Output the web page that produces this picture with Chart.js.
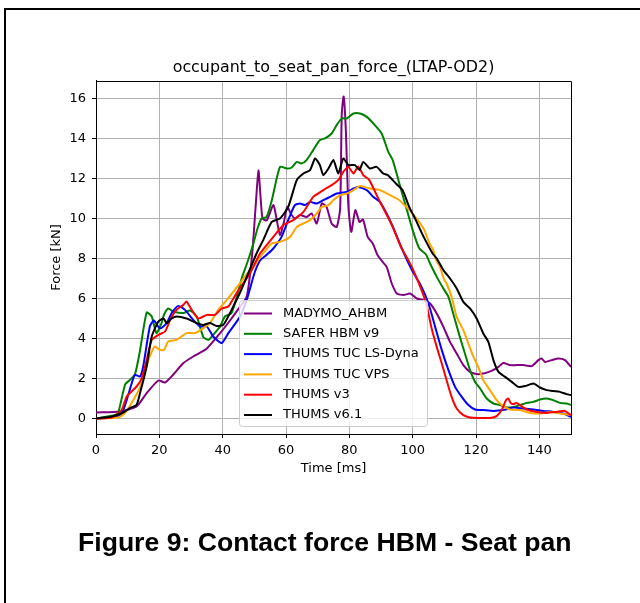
<!DOCTYPE html>
<html>
<head>
<meta charset="utf-8">
<title>occupant_to_seat_pan_force_(LTAP-OD2)</title>
<script src="https://cdn.jsdelivr.net/npm/chart.js@4.4.1/dist/chart.umd.min.js"></script>
<style>
  html, body { margin: 0; padding: 0; background: #fff; overflow: hidden; }
  #page { position: relative; width: 640px; height: 603px; overflow: hidden; }
  .rule { position: absolute; background: #000; }
  #ruleTop { left: 4px; top: 8px; width: 636px; height: 2px; }
  #ruleLeft { left: 4px; top: 8px; width: 2px; height: 595px; }
  #chart { position: absolute; left: 0; top: 0; }
  #caption { position: absolute; left: 78px; top: 527px; line-height: 30px; white-space: nowrap;
             font: bold 26.6px "Liberation Sans", Arial, sans-serif; color: #000; }
</style>
</head>
<body>
<div id="page">
  <div class="rule" id="ruleTop"></div>
  <div class="rule" id="ruleLeft"></div>
  <canvas id="chart" width="640" height="603"></canvas>
  <div id="caption">Figure 9: Contact force HBM - Seat pan</div>
</div>
<script>
// time [ms] / force [kN] per model
const madymoTime  = [0, 7.6, 12.8, 16, 19.7, 21.8, 24.4, 27.6, 30.7, 35, 39.2, 41.6, 44.7, 47.6, 49.3, 50.5, 51.3, 52.0, 52.6, 53.9, 56.0, 57.0, 58.1, 59.3, 60.4, 61.5, 62.8, 64.4, 66.5, 68.1, 69.7, 71.3, 72.8, 74.4, 76.0, 77.1, 77.6, 78.2, 78.9, 79.7, 80.6, 81.9, 83.2, 84.3, 85.8, 87.4, 88.9, 90.5, 91.8, 93.4, 95.0, 97.1, 99.2, 101.3, 103.4, 105.5, 107.6, 109.7, 111.8, 113.9, 116.0, 118.1, 120.2, 122.3, 124.9, 127.1, 128.6, 130.7, 132.8, 134.9, 137.6, 139.7, 140.7, 141.8, 143.9, 146.0, 148.1, 150];
const madymoForce = [0.3, 0.35, 0.6, 1.27, 1.9, 1.8, 2.2, 2.77, 3.1, 3.5, 4.27, 4.75, 5.42, 6.1, 8.2, 10.8, 12.4, 11.0, 10.0, 9.9, 10.67, 10.0, 9.17, 9.8, 10.58, 10.25, 10.0, 10.17, 10.08, 10.25, 9.75, 10.75, 10.58, 9.75, 9.58, 10.5, 15.2, 16.1, 14.4, 10.6, 9.33, 10.42, 9.83, 9.95, 9.08, 8.75, 8.17, 7.83, 7.58, 6.75, 6.25, 6.17, 6.25, 6.0, 5.92, 5.75, 5.25, 4.58, 3.83, 3.25, 2.67, 2.33, 2.22, 2.25, 2.38, 2.58, 2.78, 2.67, 2.67, 2.67, 2.62, 2.92, 3.0, 2.83, 2.92, 3.0, 2.92, 2.58];

const saferTime  = [0, 6, 7, 9.2, 10.7, 12.3, 13.9, 16, 17.6, 19.1, 20.7, 21.5, 22.8, 24.4, 27.6, 29.7, 31.8, 33.9, 35.5, 37, 39.2, 40.7, 42.8, 45.5, 46.0, 48.0, 49.7, 51.0, 52.3, 53.9, 55.5, 58.1, 60.2, 61.8, 63.4, 64.9, 66.5, 68.6, 70.7, 72.3, 74.4, 76.0, 77.6, 79.2, 81.3, 83.4, 85.5, 87.6, 90.2, 92.3, 93.7, 95.8, 97.9, 100.0, 102.1, 104.2, 105.5, 107.6, 109.7, 111.3, 112.8, 114.9, 116.5, 118.1, 119.7, 121.3, 123.4, 125.5, 127.6, 129.7, 131.8, 133.9, 136, 138.1, 140.2, 142.3, 144.4, 146.5, 148.6, 150];
const saferForce = [0, 0.18, 0.27, 1.7, 1.93, 2.2, 3.4, 5.3, 5.1, 4.27, 4.77, 5.2, 5.5, 5.35, 5.27, 5.4, 5.1, 4.07, 3.93, 4.18, 4.6, 5.1, 5.27, 6.7, 7.0, 7.9, 8.75, 9.5, 10.0, 10.08, 10.9, 12.58, 12.5, 12.55, 12.83, 12.75, 12.92, 13.42, 13.92, 14.0, 14.25, 14.67, 15.0, 15.0, 15.25, 15.25, 15.08, 14.75, 14.25, 13.33, 12.92, 11.75, 10.58, 9.42, 8.5, 8.2, 7.75, 7.08, 6.5, 6.08, 5.25, 4.08, 3.25, 2.42, 1.83, 1.5, 1.0, 0.75, 0.67, 0.55, 0.58, 0.67, 0.78, 0.83, 0.95, 1.0, 0.92, 0.78, 0.75, 0.67];

const lsDynaTime  = [0, 5, 8, 9.7, 11.3, 12.3, 13.9, 14.9, 17, 18.3, 20.2, 22.3, 23.9, 26, 28.1, 30.7, 32.8, 35, 37, 39.7, 41.8, 45.5, 47.9, 50.0, 51.8, 54, 56, 58.6, 60.7, 62.8, 64.4, 66, 67.6, 69.7, 71.8, 73.9, 76, 79.2, 81.3, 82.7, 85.5, 87.6, 89.5, 91.6, 93.7, 96.3, 98.9, 100.2, 102.8, 105, 107.1, 109.2, 111.3, 113.4, 115.5, 117.6, 119.7, 122.3, 125.5, 128.6, 131.8, 134.9, 138.1, 141.3, 144.4, 147.6, 150];
const lsDynaForce = [0, 0.05, 0.2, 0.93, 1.77, 2.18, 2.1, 2.6, 4.6, 4.9, 4.5, 4.77, 5.27, 5.63, 5.43, 4.93, 4.6, 4.6, 4.1, 3.77, 4.27, 5.1, 6.08, 7.25, 7.9, 8.2, 8.5, 9.08, 9.92, 10.67, 10.75, 10.67, 10.83, 10.75, 10.92, 11.08, 11.25, 11.33, 11.5, 11.58, 11.42, 11.08, 10.85, 10.3, 9.6, 8.6, 7.7, 7.3, 6.58, 5.75, 4.58, 3.42, 2.42, 1.58, 1.08, 0.67, 0.45, 0.42, 0.38, 0.42, 0.55, 0.5, 0.45, 0.38, 0.33, 0.25, 0.08];

const vpsTime  = [0, 7, 9, 11.8, 14, 15.5, 17, 18.5, 20.2, 21.5, 22.8, 25.4, 28.6, 31.3, 33.9, 36, 38.6, 41.3, 45.5, 47.5, 49.7, 52, 55.5, 58.1, 61.3, 63.4, 65.5, 67.6, 69.7, 71.3, 73.4, 75, 77.1, 79.2, 81.3, 83.4, 86.5, 89.7, 92.8, 95.5, 97.4, 99.5, 101.6, 103.7, 105.3, 106.5, 107.4, 108.6, 110.0, 110.7, 112.3, 113.9, 116, 117.6, 119.2, 120.7, 122.3, 124.4, 126.5, 128.6, 130.7, 133.9, 137.1, 140.2, 143.4, 146.5, 150];
const vpsForce = [0, 0.05, 0.25, 0.93, 1.6, 2.4, 3.1, 3.6, 3.43, 3.43, 3.85, 3.93, 4.27, 4.27, 4.52, 4.77, 5.43, 5.93, 6.77, 7.2, 7.58, 8.1, 8.75, 8.83, 9.08, 9.58, 9.75, 9.92, 10.25, 10.58, 10.67, 10.92, 11.17, 11.25, 11.42, 11.62, 11.5, 11.42, 11.17, 10.95, 10.67, 10.33, 9.92, 9.42, 8.75, 8.42, 7.92, 7.58, 6.92, 6.75, 6.08, 5.08, 4.42, 3.75, 3.08, 2.58, 1.92, 1.42, 0.92, 0.62, 0.45, 0.42, 0.28, 0.25, 0.33, 0.25, 0.17];

const v3Time  = [0, 5, 8, 9.7, 12.8, 14.4, 16, 17.6, 19.7, 21.8, 23.4, 25.4, 27.6, 28.6, 30.2, 32.3, 35, 37.6, 39.7, 41.8, 44.4, 48.6, 51.8, 56, 59.2, 62.3, 65.5, 68.6, 71.8, 74.4, 76.5, 78.1, 79.7, 81.3, 82.8, 84.4, 86.3, 88.9, 91.6, 93.7, 96.3, 98.9, 100.2, 102.8, 104.4, 106, 107.6, 109.2, 110.7, 112.3, 113.9, 116, 118.1, 121.3, 124.4, 126.5, 128.1, 129.5, 130.2, 130.9, 131.8, 132.8, 133.9, 136, 139.2, 142.3, 145.4, 148, 150];
const v3Force = [0, 0.05, 0.4, 1.1, 1.6, 2.0, 2.93, 3.93, 4.18, 4.35, 4.93, 5.43, 5.68, 5.85, 5.43, 5.0, 5.18, 5.18, 5.5, 5.6, 6.27, 7.25, 8.25, 9.08, 9.67, 9.92, 10.33, 11.08, 11.42, 11.67, 11.92, 12.33, 12.58, 12.25, 12.6, 12.17, 11.92, 11.08, 10.25, 9.58, 8.58, 7.83, 7.42, 6.42, 5.67, 4.5, 3.58, 2.75, 1.92, 1.08, 0.5, 0.17, 0.05, 0.03, 0.03, 0.12, 0.42, 0.92, 1.0, 0.78, 0.72, 0.78, 0.67, 0.45, 0.33, 0.28, 0.33, 0.38, 0.17];

const v61Time  = [0, 5, 8.6, 10.7, 12.8, 13.9, 16, 17.6, 19.7, 21.3, 22.3, 23.9, 25.4, 28.6, 31.8, 33.9, 36, 38.1, 40.2, 42.3, 45.5, 47.6, 50.7, 52.8, 55.5, 58.1, 60.7, 63.4, 65.5, 67.6, 69.2, 70.7, 71.8, 73.4, 75.0, 76.5, 78.1, 79.7, 81.8, 83.2, 84.4, 86.5, 88.6, 90.7, 92.1, 94.7, 96.8, 98.9, 101, 103.2, 106.3, 107.6, 109.7, 111.8, 113.9, 116, 118.1, 120.2, 122.3, 123.9, 125.5, 127.1, 129.2, 131.3, 133.4, 135.5, 138.1, 140.2, 142.3, 144.4, 146.5, 148.6, 150];
const v61Force = [0, 0.1, 0.3, 0.52, 0.68, 1.27, 2.6, 4.1, 4.85, 5.0, 4.77, 5.0, 5.1, 5.0, 4.77, 4.68, 4.77, 4.63, 4.68, 5.27, 6.3, 7.08, 8.25, 8.92, 9.83, 10.0, 10.58, 11.92, 12.25, 12.42, 13.0, 12.67, 12.17, 12.5, 12.92, 12.25, 13.0, 12.67, 12.67, 12.42, 12.83, 12.5, 12.58, 12.25, 12.17, 11.75, 11.42, 10.58, 9.92, 9.17, 8.25, 8.0, 7.42, 7.0, 6.5, 5.83, 5.5, 5.0, 4.25, 3.83, 2.92, 2.33, 2.08, 1.83, 1.58, 1.62, 1.75, 1.55, 1.42, 1.37, 1.33, 1.22, 1.17];

const seriesNames  = ["MADYMO_AHBM", "SAFER HBM v9", "THUMS TUC LS-Dyna", "THUMS TUC VPS", "THUMS v3", "THUMS v6.1"];
const seriesColors = ["#800080", "#008000", "#0000ff", "#ffa500", "#ff0000", "#000000"];
const seriesTimes  = [madymoTime, saferTime, lsDynaTime, vpsTime, v3Time, v61Time];
const seriesForces = [madymoForce, saferForce, lsDynaForce, vpsForce, v3Force, v61Force];

const xTicks = [0, 20, 40, 60, 80, 100, 120, 140];
const yTicks = [0, 2, 4, 6, 8, 10, 12, 14, 16];

Chart.defaults.font.family = "'DejaVu Sans', sans-serif";
Chart.defaults.font.size = 13;
Chart.defaults.color = "#000";

const datasets = seriesNames.map((name, i) => ({
  label: name,
  data: seriesTimes[i].map((t, k) => ({ x: t, y: seriesForces[i][k] })),
  borderColor: seriesColors[i],
  backgroundColor: seriesColors[i],
  borderWidth: 2,
  pointRadius: 0,
  tension: 0.2,
  fill: false,
  order: seriesNames.length - i   // later series on top
}));

// full box around the plot area (top and right spines),
// and keep the title centred over the plot rather than the canvas
const axesBox = {
  id: "axesBox",
  afterLayout(chart) {
    const a = chart.chartArea;
    if (chart.titleBlock) {
      chart.titleBlock.left = a.left;
      chart.titleBlock.right = a.right;
      chart.titleBlock.width = a.right - a.left;
    }
  },
  afterDraw(chart) {
    const { ctx, chartArea: a } = chart;
    ctx.save();
    ctx.strokeStyle = "#000";
    ctx.lineWidth = 1;
    ctx.beginPath();
    ctx.moveTo(Math.round(a.left) + 0.5, Math.round(a.top) + 0.5);
    ctx.lineTo(Math.round(a.right) + 0.5, Math.round(a.top) + 0.5);
    ctx.lineTo(Math.round(a.right) + 0.5, Math.round(a.bottom) + 0.5);
    ctx.stroke();
    ctx.restore();
  }
};

// legend inside the axes, below the curves' peak
const innerLegend = {
  id: "innerLegend",
  afterDatasetsDraw(chart) {
    const ctx = chart.ctx;
    const x0 = 239.5, y0 = 300.5, w = 188, h = 126, r = 3;
    ctx.save();
    ctx.beginPath();
    ctx.roundRect(x0, y0, w, h, r);
    ctx.fillStyle = "rgba(255,255,255,0.8)";
    ctx.fill();
    ctx.strokeStyle = "#cccccc";
    ctx.lineWidth = 1;
    ctx.stroke();
    ctx.font = "13px 'DejaVu Sans'";
    ctx.textBaseline = "middle";
    seriesNames.forEach((name, i) => {
      const y = 313.5 + i * 20.3;
      ctx.strokeStyle = seriesColors[i];
      ctx.lineWidth = 2;
      ctx.beginPath();
      ctx.moveTo(244, y);
      ctx.lineTo(272, y);
      ctx.stroke();
      ctx.fillStyle = "#000";
      ctx.fillText(name, 283, y);
    });
    ctx.restore();
  }
};

new Chart(document.getElementById("chart"), {
  type: "line",
  data: { datasets },
  options: {
    responsive: false,
    devicePixelRatio: 1,
    animation: false,
    layout: { padding: { left: 0, right: 69, top: 0, bottom: 0 } },
    plugins: {
      legend: { display: false },
      tooltip: { enabled: false },
      title: {
        display: true,
        text: "occupant_to_seat_pan_force_(LTAP-OD2)",
        color: "#000",
        font: { size: 15.9, weight: "normal" },
        padding: { top: 58.5, bottom: 3.4 }
      }
    },
    scales: {
      x: {
        type: "linear",
        min: 0,
        max: 150,
        afterFit: s => { s.height = 169; },
        afterBuildTicks: s => { s.ticks = xTicks.map(v => ({ value: v })); },
        ticks: { stepSize: 20, includeBounds: false, autoSkip: false, maxRotation: 0, padding: 5, color: "#000" },
        grid: { color: "#b0b0b0", lineWidth: 1, tickLength: 4, tickColor: "#000" },
        border: { color: "#000", width: 1 },
        title: { display: true, text: "Time [ms]", color: "#000", padding: { top: 0, bottom: 127 } }
      },
      y: {
        type: "linear",
        min: -0.775,
        max: 16.875,
        afterFit: s => { s.width = 96; },
        afterBuildTicks: s => { s.ticks = yTicks.map(v => ({ value: v })); },
        ticks: { stepSize: 2, includeBounds: false, autoSkip: false, padding: 6, color: "#000" },
        grid: { color: "#b0b0b0", lineWidth: 1, tickLength: 4, tickColor: "#000" },
        border: { color: "#000", width: 1 },
        title: { display: true, text: "Force [kN]", color: "#000", padding: { top: 49, bottom: 0 } }
      }
    }
  },
  plugins: [axesBox, innerLegend]
});
</script>
</body>
</html>
